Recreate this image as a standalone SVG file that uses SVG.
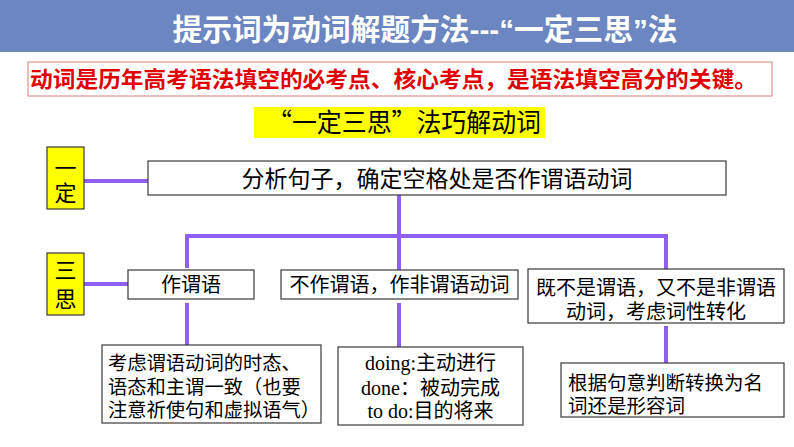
<svg xmlns="http://www.w3.org/2000/svg" width="794" height="447" viewBox="0 0 794 447">
<style>
text{font-family:"Noto Sans CJK SC","Noto Sans",sans-serif;fill:#000}
.box{fill:#fff;stroke:#3a3a3a;stroke-width:1.2}
.yb{fill:#ffff00;stroke:#3a3a3a;stroke-width:1.2}
.c{fill:none;stroke:#8f5ff2;stroke-width:4}
.m{font-size:20px;text-anchor:middle}
.l{font-size:19.5px}
.lat{font-family:"Liberation Serif","Noto Sans CJK SC",serif;font-size:20px;text-anchor:middle}
.side{font-size:22px;text-anchor:middle}
.q{font-family:"Liberation Sans",sans-serif}
</style>
<rect x="0" y="0" width="794" height="52" fill="#6b86c0"/>
<text x="425" y="40" font-size="30" font-weight="bold" text-anchor="middle" textLength="505" lengthAdjust="spacingAndGlyphs" style="fill:#fff">提示词为动词解题方法<tspan class="q">---“</tspan>一定三思<tspan class="q">”</tspan>法</text>
<rect x="28" y="62" width="744" height="34" fill="#fff" stroke="#d9958f" stroke-width="1.2"/>
<text x="30" y="87" font-size="22" font-weight="bold" textLength="727" lengthAdjust="spacingAndGlyphs" style="fill:#e00000">动词是历年高考语法填空的必考点、核心考点，是语法填空高分的关键。</text>
<rect x="254" y="107" width="291" height="31" fill="#ffff00"/>
<text x="267" y="132" font-size="26" textLength="274" lengthAdjust="spacingAndGlyphs">“一定三思”法巧解动词</text>
<g id="connectors">
<path class="c" d="M84,181 H148"/>
<path class="c" d="M399,195 V270"/>
<path class="c" d="M187,268 V236 H666 V269"/>
<path class="c" d="M84,284 H128"/>
<path class="c" d="M187,303 V345"/>
<path class="c" d="M399,303 V347"/>
<path class="c" d="M666,326 V363"/>
</g>
<g id="node-yiding">
<rect class="yb" x="47" y="147" width="37" height="62"/>
<text class="side" x="65.5" y="176">一</text>
<text class="side" x="65.5" y="201">定</text>
</g>
<g id="node-sansi">
<rect class="yb" x="47" y="253" width="37" height="62"/>
<text class="side" x="65.5" y="278">三</text>
<text class="side" x="65.5" y="307">思</text>
</g>
<g id="node-main">
<rect class="box" x="148" y="161" width="578" height="34"/>
<text x="437" y="186.5" font-size="23" text-anchor="middle">分析句子，确定空格处是否作谓语动词</text>
</g>
<g id="node-weiyu">
<rect class="box" x="128" y="270" width="126" height="29"/>
<text class="m" x="191" y="292">作谓语</text>
</g>
<g id="node-feiweiyu">
<rect class="box" x="281" y="270" width="237" height="29"/>
<text class="m" x="399.5" y="292">不作谓语，作非谓语动词</text>
</g>
<g id="node-neither">
<rect class="box" x="528" y="269" width="256" height="54"/>
<text class="m" x="656" y="294.5">既不是谓语，又不是非谓语</text>
<text class="m" x="656" y="318.5">动词，考虑词性转化</text>
</g>
<g id="node-kaolu">
<rect class="box" x="102" y="345" width="219" height="78"/>
<text class="l" x="108" y="369.5" style="font-size:19.3px">考虑谓语动词的时态、</text>
<text class="l" x="108" y="393.5" style="font-size:19.3px">语态和主谓一致（也要</text>
<text class="l" x="108" y="417" style="font-size:19.3px">注意祈使句和虚拟语气）</text>
</g>
<g id="node-doing">
<rect class="box" x="338" y="347" width="185" height="78"/>
<text class="lat" x="430.5" y="370">doing:主动进行</text>
<text class="lat" x="430.5" y="395">done：被动完成</text>
<text class="lat" x="430.5" y="417.5">to do:目的将来</text>
</g>
<g id="node-genju">
<rect class="box" x="561" y="363" width="223" height="54"/>
<text class="l" x="568" y="389.5">根据句意判断转换为名</text>
<text class="l" x="568" y="412.5">词还是形容词</text>
</g>
</svg>
